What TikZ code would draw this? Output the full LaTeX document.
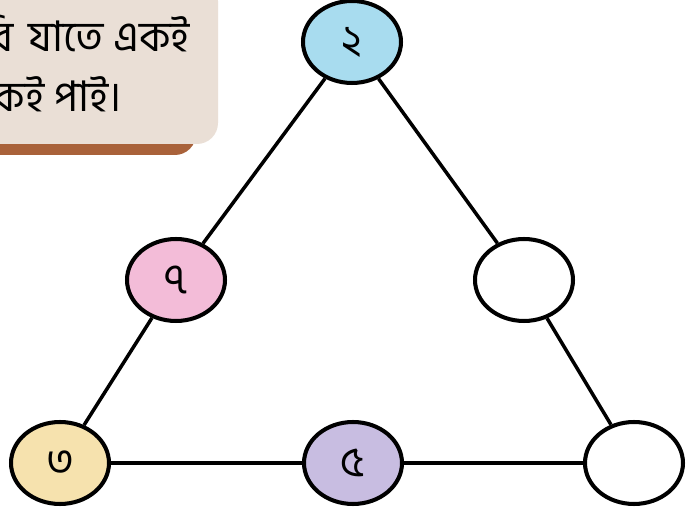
\documentclass[tikz,border=0pt]{standalone}
\usepackage{fontspec}
\newfontfamily\bnfont[Script=Bengali]{Hind Siliguri}
\usepackage{tikz}
\usetikzlibrary{shapes.geometric}
\definecolor{cardfill}{HTML}{EADFD6}
\definecolor{cardshade}{HTML}{A9623A}
\definecolor{numblue}{HTML}{A8DCEF}
\definecolor{numpink}{HTML}{F3BCD8}
\definecolor{numyellow}{HTML}{F6E2AE}
\definecolor{numpurple}{HTML}{C8BDE1}
\tikzset{
    tri num/.style={
        draw=black,
        ellipse,
        line width=2.3pt,
        minimum width=1.96cm,
        minimum height=1.64cm,
        inner sep=0pt,
        fill=white,
        font=\bnfont\fontsize{24}{24}\selectfont
    },
    tri edge/.style={line width=2pt, draw=black},
    card text/.style={font=\bnfont\fontsize{24}{28}\selectfont, inner sep=0pt}
}
\begin{document}
\begin{tikzpicture}[x=0.02cm, y=-0.02cm]
\useasboundingbox (0,0) rectangle (690,526);
\clip (0,0) rectangle (690,526);
\fill[white] (0,0) rectangle (690,526);

% card in the corner
\fill[cardshade, rounded corners=12pt] (-20,-20) rectangle (196,155);
\fill[cardfill, rounded corners=12pt] (-20,-20) rectangle (218,144);
\node[card text, anchor=base east] (line1) at (190,52) {রি\hspace{0.35em}যাতে একই};
\node[card text, anchor=base east] (line2) at (122,112) {কই পাই।};

% numbers on the triangle
\node[tri num, fill=numblue] (top) at (352,42) {২};
\node[tri num, fill=numpink] (left) at (176,280) {৭};
\node[tri num] (right) at (524,280) {};
\node[tri num, fill=numyellow] (bl) at (60,463) {৩};
\node[tri num, fill=numpurple] (bottom) at (353,463) {৫};
\node[tri num] (br) at (634,463) {};

\draw[tri edge] (top) -- (left);
\draw[tri edge] (left) -- (bl);
\draw[tri edge] (bl) -- (bottom);
\draw[tri edge] (bottom) -- (br);
\draw[tri edge] (top) -- (right);
\draw[tri edge] (right) -- (br);
\end{tikzpicture}
\end{document}
